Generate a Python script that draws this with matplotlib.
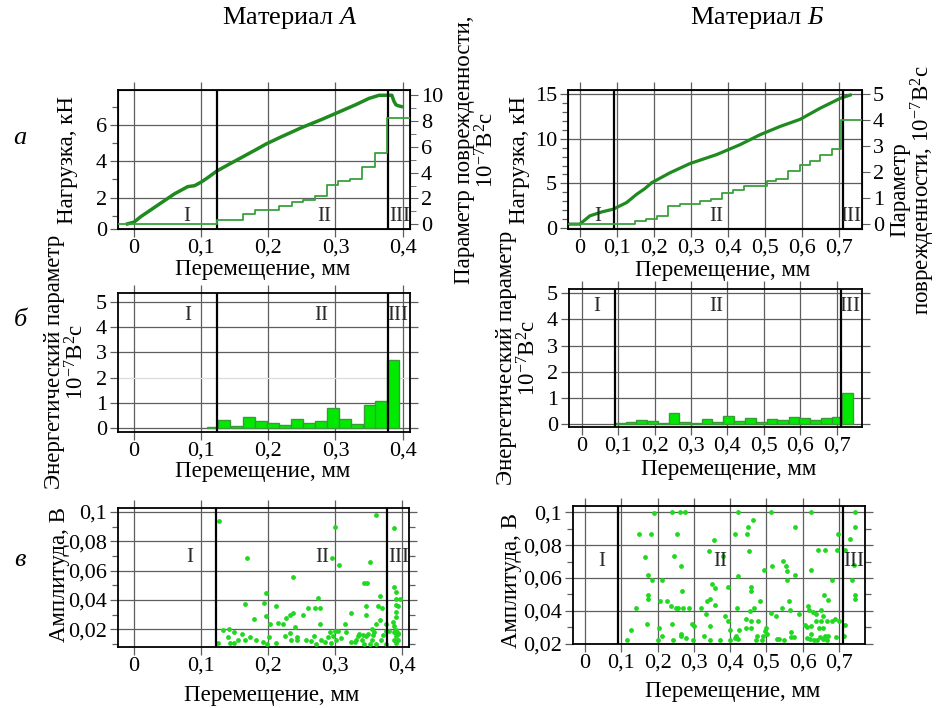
import matplotlib
matplotlib.use('Agg')
import matplotlib.pyplot as plt
from matplotlib.ticker import FuncFormatter, MultipleLocator

plt.rcParams['font.family'] = ['Liberation Serif', 'DejaVu Serif']
plt.rcParams['mathtext.fontset'] = 'custom'
plt.rcParams['mathtext.rm'] = 'Liberation Serif'
plt.rcParams['mathtext.it'] = 'Liberation Serif:italic'

# ---------------- Material A ----------------
load_x_A = [-0.010, 0.000, 0.010, 0.020, 0.028, 0.040, 0.050, 0.060, 0.070, 0.080,
            0.090, 0.100, 0.110, 0.123, 0.140, 0.160, 0.180, 0.197, 0.220, 0.250,
            0.280, 0.302, 0.330, 0.350, 0.365, 0.378, 0.384, 0.387, 0.390, 0.393, 0.398]
load_A = [0.55, 0.65, 0.95, 1.20, 1.40, 1.70, 1.95, 2.20, 2.40, 2.60,
          2.65, 2.85, 3.10, 3.45, 3.80, 4.20, 4.60, 4.95, 5.35, 5.85,
          6.30, 6.65, 7.10, 7.45, 7.62, 7.62, 7.62, 7.30, 7.10, 7.05, 7.00]

damage_x_A = [-0.024, 0.124, 0.162, 0.180, 0.216, 0.235, 0.252, 0.269, 0.287,
              0.304, 0.322, 0.340, 0.359, 0.376, 0.411]
damage_A = [0.0, 0.35, 0.79, 1.10, 1.38, 1.69, 1.90, 2.20, 3.04,
            3.35, 3.50, 4.44, 5.48, 8.20, 8.20]

bar_x_A = [0.117, 0.1345, 0.153, 0.171, 0.189, 0.2065, 0.2245, 0.243,
           0.261, 0.279, 0.2965, 0.3145, 0.3325, 0.351, 0.368, 0.3855]
bar_A = [0.04, 0.33, 0.07, 0.43, 0.29, 0.21, 0.11, 0.36,
         0.20, 0.29, 0.78, 0.37, 0.16, 0.93, 1.06, 2.70]

amp_x_A = [0.127, 0.126, 0.133, 0.142, 0.140, 0.144, 0.149, 0.150, 0.156, 0.162,
           0.166, 0.166, 0.169, 0.173, 0.180, 0.183, 0.193, 0.194, 0.197, 0.197,
           0.198, 0.201, 0.203, 0.212, 0.212, 0.215, 0.222, 0.225, 0.227, 0.233,
           0.233, 0.235, 0.238, 0.238, 0.240, 0.244, 0.244, 0.253, 0.257, 0.260,
           0.264, 0.269, 0.270, 0.272, 0.275, 0.278, 0.278, 0.279, 0.285, 0.290,
           0.293, 0.294, 0.296, 0.297, 0.300, 0.300, 0.302, 0.305, 0.306, 0.310,
           0.315, 0.317, 0.325, 0.325, 0.330, 0.332, 0.335, 0.337, 0.340, 0.342,
           0.344, 0.346, 0.347, 0.347, 0.344, 0.348, 0.350, 0.352, 0.353, 0.355,
           0.356, 0.357, 0.359, 0.362, 0.362, 0.364, 0.367, 0.367, 0.369, 0.371,
           0.362, 0.372, 0.376, 0.377, 0.377, 0.381, 0.387, 0.388, 0.389, 0.389,
           0.389, 0.389, 0.391, 0.391, 0.392, 0.391, 0.392, 0.392, 0.392, 0.392,
           0.392, 0.394, 0.394, 0.397, 0.395, 0.395]
amp_A = [0.0935, 0.0109, 0.0193, 0.0200, 0.0147, 0.0109, 0.0109, 0.0182, 0.0129, 0.0166,
         0.0129, 0.0371, 0.0689, 0.0147, 0.0268, 0.0129, 0.0113, 0.0376, 0.0289, 0.0449,
         0.0102, 0.0147, 0.0234, 0.0360, 0.0109, 0.0243, 0.0234, 0.0152, 0.0280, 0.0296,
         0.0177, 0.0129, 0.0312, 0.0554, 0.0216, 0.0129, 0.0147, 0.0300, 0.0129, 0.0348,
         0.0120, 0.0154, 0.0348, 0.0102, 0.0410, 0.0348, 0.0234, 0.0129, 0.0113, 0.0147,
         0.0182, 0.0109, 0.0689, 0.0152, 0.0189, 0.0896, 0.0125, 0.0189, 0.0638, 0.0143,
         0.0234, 0.0182, 0.0314, 0.0113, 0.0113, 0.0129, 0.0152, 0.0170, 0.0129, 0.0159,
         0.0102, 0.0152, 0.0300, 0.0358, 0.0513, 0.0513, 0.0166, 0.0102, 0.0661, 0.0205,
         0.0129, 0.0163, 0.0182, 0.0102, 0.0239, 0.0358, 0.0426, 0.0262, 0.0129, 0.0348,
         0.0976, 0.0159, 0.0186, 0.0102, 0.0239, 0.0186, 0.0250, 0.0129, 0.0182, 0.0223,
         0.0894, 0.0485, 0.0451, 0.0405, 0.0364, 0.0319, 0.0284, 0.0198, 0.0152, 0.0106,
         0.0175, 0.0129, 0.0170, 0.0405, 0.0358, 0.0175]

bounds_A = [0.123, 0.378]

# ---------------- Material B ----------------
load_x_B = [-0.032, 0.000, 0.027, 0.060, 0.090, 0.126, 0.153, 0.175, 0.194, 0.243,
            0.297, 0.369, 0.432, 0.486, 0.540, 0.594, 0.648, 0.702, 0.729]
load_B = [0.42, 0.42, 1.35, 1.80, 2.10, 2.84, 3.77, 4.40, 5.08, 6.19,
          7.23, 8.24, 9.35, 10.47, 11.40, 12.20, 13.45, 14.56, 14.93]

damage_x_B = [-0.032, 0.148, 0.178, 0.207, 0.238, 0.270, 0.324, 0.353, 0.384, 0.414,
              0.444, 0.504, 0.530, 0.562, 0.594, 0.621, 0.648, 0.680, 0.704, 0.768]
damage_B = [0.0, 0.14, 0.22, 0.33, 0.71, 0.78, 0.90, 0.97, 1.22, 1.30,
            1.47, 1.66, 1.75, 2.05, 2.27, 2.45, 2.68, 2.90, 4.02, 4.02]

bar_x_B = [0.105, 0.134, 0.164, 0.193, 0.225, 0.253, 0.281, 0.312, 0.343, 0.373, 0.403,
           0.433, 0.463, 0.493, 0.523, 0.552, 0.583, 0.612, 0.642, 0.673, 0.702, 0.730]
bar_B = [0.03, 0.05, 0.13, 0.10, 0.04, 0.42, 0.06, 0.03, 0.17, 0.05, 0.28,
         0.10, 0.22, 0.05, 0.19, 0.15, 0.27, 0.22, 0.15, 0.23, 0.26, 1.18]

amp_x_B = [0.115, 0.127, 0.140, 0.150, 0.165, 0.172, 0.175, 0.175, 0.175, 0.181,
           0.191, 0.186, 0.202, 0.205, 0.207, 0.211, 0.211, 0.225, 0.236, 0.239,
           0.241, 0.243, 0.246, 0.250, 0.253, 0.257, 0.262, 0.264, 0.264, 0.266,
           0.268, 0.271, 0.276, 0.278, 0.287, 0.296, 0.297, 0.301, 0.321, 0.328,
           0.333, 0.337, 0.343, 0.344, 0.346, 0.346, 0.349, 0.356, 0.358, 0.358,
           0.372, 0.381, 0.386, 0.393, 0.395, 0.399, 0.399, 0.413, 0.413, 0.415,
           0.418, 0.421, 0.421, 0.422, 0.425, 0.443, 0.445, 0.447, 0.450, 0.453,
           0.455, 0.459, 0.459, 0.459, 0.459, 0.464, 0.466, 0.471, 0.473, 0.478,
           0.482, 0.489, 0.491, 0.493, 0.496, 0.499, 0.501, 0.512, 0.514, 0.516,
           0.526, 0.530, 0.535, 0.542, 0.545, 0.548, 0.554, 0.556, 0.556, 0.563,
           0.565, 0.567, 0.569, 0.577, 0.579, 0.580, 0.591, 0.606, 0.611, 0.613,
           0.615, 0.617, 0.620, 0.622, 0.622, 0.622, 0.624, 0.629, 0.632, 0.636,
           0.638, 0.640, 0.643, 0.646, 0.647, 0.650, 0.652, 0.655, 0.657, 0.657,
           0.659, 0.661, 0.663, 0.666, 0.666, 0.669, 0.670, 0.680, 0.682, 0.689,
           0.691, 0.696, 0.698, 0.701, 0.714, 0.716, 0.716, 0.730, 0.737, 0.742,
           0.744, 0.744, 0.744, 0.744]
amp_B = [0.0220, 0.0281, 0.0417, 0.0870, 0.0728, 0.0322, 0.0616, 0.0498, 0.0474, 0.0870,
         0.0996, 0.0590, 0.0220, 0.0295, 0.0458, 0.0590, 0.0249, 0.0458, 0.0431, 0.0322,
         0.1000, 0.0220, 0.0732, 0.0417, 0.0870, 0.0417, 0.1000, 0.0671, 0.0261, 0.0249,
         0.0519, 0.0417, 0.1000, 0.0235, 0.0417, 0.0322, 0.0220, 0.0306, 0.0417, 0.0249,
         0.0383, 0.0458, 0.0762, 0.0306, 0.0220, 0.0472, 0.0565, 0.0833, 0.0539, 0.0438,
         0.0224, 0.0732, 0.0366, 0.0336, 0.0545, 0.0220, 0.0281, 0.0235, 0.0870, 0.0249,
         0.0417, 0.0614, 0.1000, 0.0228, 0.0281, 0.0295, 0.0350, 0.0870, 0.0909, 0.0762,
         0.0397, 0.0295, 0.0336, 0.0545, 0.0519, 0.0951, 0.0417, 0.0220, 0.0249, 0.0336,
         0.0458, 0.0224, 0.0249, 0.0651, 0.0275, 0.0295, 0.0261, 0.1000, 0.0387, 0.0675,
         0.0371, 0.0228, 0.0228, 0.0417, 0.0701, 0.0220, 0.0675, 0.0641, 0.0590, 0.0458,
         0.0403, 0.0269, 0.0241, 0.0241, 0.0911, 0.0616, 0.0383, 0.0316, 0.0302, 0.0235,
         0.0431, 0.0403, 0.0228, 0.1000, 0.0647, 0.0306, 0.0261, 0.0391, 0.0220, 0.0336,
         0.0383, 0.0224, 0.0768, 0.0295, 0.0241, 0.0403, 0.0336, 0.0366, 0.0228, 0.0295,
         0.0498, 0.0249, 0.0768, 0.0336, 0.0220, 0.0249, 0.0464, 0.0336, 0.0590, 0.0350,
         0.0241, 0.0768, 0.0870, 0.0336, 0.0249, 0.0312, 0.0768, 0.0837, 0.0590, 0.0681,
         0.1000, 0.0911, 0.0498, 0.0474]

bounds_B = [0.091, 0.711]

W, H = 942, 708
GRID = '#5e5e5e'
LOAD_COLOR = '#1f8a1f'
DAMAGE_COLOR = '#3aa03a'
BAR_FILL = '#00ea00'
BAR_EDGE = '#3a9a3a'
DOT_COLOR = '#1fd81f'
UNIT = r'10$^{-7}$В$^2$с'
TICK_SIZE = 16
LABEL_SIZE = 16.5

comma = FuncFormatter(lambda v, p: f'{v:g}'.replace('.', ','))

fig = plt.figure(figsize=(W / 100, H / 100), dpi=100)


def px_axes(x0, y0, x1, y1):
    return fig.add_axes([x0 / W, 1 - y1 / H, (x1 - x0) / W, (y1 - y0) / H])


def frame(ax, right=True):
    ax.set_axisbelow(True)
    ax.grid(True, which='major', color=GRID, lw=0.9)
    ax.tick_params(which='both', direction='out', color=GRID, top=True,
                   right=right, labelsize=TICK_SIZE, pad=2)
    ax.tick_params(which='major', length=6, width=0.9)
    ax.tick_params(which='minor', length=4, width=0.9)
    ax.tick_params(axis='x', pad=1)
    ax.xaxis.set_major_formatter(comma)
    ax.yaxis.set_major_formatter(comma)
    for s in ax.spines.values():
        s.set_linewidth(1.3)


def regions(ax, bounds, xs, y):
    for b in bounds:
        ax.axvline(b, color='black', lw=1.6, zorder=4)
    for x, name in zip(xs, ['I', 'II', 'III']):
        ax.text(x, y, name, transform=ax.get_xaxis_transform(), ha='center',
                va='center', fontsize=15, color='#2a2a2a', zorder=5)


def label(x, y, text, rot=0, size=LABEL_SIZE, **kw):
    fig.text(x / W, 1 - y / H, text, rotation=rot, ha='center', va='center',
             fontsize=size, **kw)


# ---- row a: load and damage parameter ----
ax = px_axes(118, 90, 410, 229)
frame(ax, right=False)
ax.plot(load_x_A, load_A, color=LOAD_COLOR, lw=2.5, zorder=3)
ax.set_xlim(-0.024, 0.411)
ax.set_ylim(0.27, 7.91)
ax.set_xticks([0, 0.1, 0.2, 0.3, 0.4])
ax.set_yticks([0.27, 2, 4, 6], labels=['0', '2', '4', '6'])
ax.yaxis.set_minor_locator(MultipleLocator(1))
ax2 = ax.twinx()
ax2.step(damage_x_A, damage_A, where='post', color=DAMAGE_COLOR, lw=1.3, zorder=3)
ax2.set_ylim(-0.36, 10.38)
ax2.set_yticks([0, 2, 4, 6, 8, 10])
ax2.yaxis.set_minor_locator(MultipleLocator(1))
ax2.tick_params(which='both', direction='out', color=GRID, labelsize=TICK_SIZE, pad=2)
ax2.tick_params(which='major', length=6)
ax2.tick_params(which='minor', length=4)
regions(ax, bounds_A, [0.078, 0.284, 0.395], 0.09)

ax = px_axes(568, 90, 862, 229)
frame(ax, right=False)
ax.plot(load_x_B, load_B, color=LOAD_COLOR, lw=2.3, zorder=3)
ax.set_xlim(-0.032, 0.761)
ax.set_ylim(-0.13, 15.5)
ax.set_xticks([0, 0.1, 0.2, 0.3, 0.4, 0.5, 0.6, 0.7])
ax.set_yticks([0, 5, 10, 15])
ax.yaxis.set_minor_locator(MultipleLocator(1))
ax2 = ax.twinx()
ax2.step(damage_x_B, damage_B, where='post', color=DAMAGE_COLOR, lw=1.3, zorder=3)
ax2.set_ylim(-0.18, 5.16)
ax2.set_yticks([0, 1, 2, 3, 4, 5])
ax2.tick_params(direction='out', color=GRID, labelsize=TICK_SIZE, pad=2, length=6)
regions(ax, bounds_B, [0.047, 0.367, 0.732], 0.09)

# ---- row б: energy parameter histogram ----
ax = px_axes(118, 293, 410, 432)
frame(ax)
ax.bar(bar_x_A, bar_A, width=0.018, color=BAR_FILL, edgecolor=BAR_EDGE, lw=1.0, zorder=3)
ax.set_xlim(-0.024, 0.411)
ax.set_ylim(-0.16, 5.35)
ax.set_xticks([0, 0.1, 0.2, 0.3, 0.4])
ax.set_yticks([0, 1, 2, 3, 4, 5])
ax.get_ygridlines()[2].set_color('#dcdcdc')
regions(ax, bounds_A, [0.08, 0.279, 0.393], 0.84)

ax = px_axes(569, 289, 862, 427)
frame(ax)
ax.bar(bar_x_B, bar_B, width=0.029, color=BAR_FILL, edgecolor=BAR_EDGE, lw=1.0, zorder=3)
ax.set_xlim(-0.036, 0.77)
ax.set_ylim(-0.13, 5.17)
ax.set_xticks([0, 0.1, 0.2, 0.3, 0.4, 0.5, 0.6, 0.7])
ax.set_yticks([0, 1, 2, 3, 4, 5])
regions(ax, bounds_B, [0.04, 0.37, 0.737], 0.87)

# ---- row в: amplitudes ----
ax = px_axes(118, 508, 409, 647)
frame(ax)
ax.scatter(amp_x_A, amp_A, s=12, color=DOT_COLOR, lw=0, zorder=3)
ax.set_xlim(-0.024, 0.411)
ax.set_ylim(0.0079, 0.1027)
ax.set_xticks([0, 0.1, 0.2, 0.3, 0.4])
ax.set_yticks([0.02, 0.04, 0.06, 0.08, 0.1])
ax.yaxis.set_minor_locator(MultipleLocator(0.01))
regions(ax, bounds_A, [0.084, 0.281, 0.395], 0.646)

ax = px_axes(573, 506, 865, 644)
frame(ax)
ax.scatter(amp_x_B, amp_B, s=12, color=DOT_COLOR, lw=0, zorder=3)
ax.set_xlim(-0.033, 0.772)
ax.set_ylim(0.0198, 0.1038)
ax.set_xticks([0, 0.1, 0.2, 0.3, 0.4, 0.5, 0.6, 0.7])
ax.set_yticks([0.02, 0.04, 0.06, 0.08, 0.1])
ax.yaxis.set_minor_locator(MultipleLocator(0.01))
regions(ax, bounds_B, [0.046, 0.374, 0.741], 0.60)

# ---- titles, panel letters, axis labels ----
label(290, 18, r'Материал $\mathit{А}$', size=19)
label(757, 18, r'Материал $\mathit{Б}$', size=19)
for y, letter in [(138, 'а'), (320, 'б'), (560, 'в')]:
    label(20, y, letter, size=19, style='italic')

xlab = 'Перемещение, мм'
for x, y in [(263, 270), (723, 271), (263, 471), (729, 470), (272, 695), (733, 691)]:
    label(x, y, xlab)

label(68, 160, 'Нагрузка, кН', rot=90)
label(476, 150, 'Параметр поврежденности,\n' + UNIT, rot=90, linespacing=1.0)
label(519, 160, 'Нагрузка, кН', rot=90)
label(913, 190, 'Параметр\nповрежденности, ' + UNIT, rot=90, linespacing=0.95)
label(66, 362, 'Энергетический параметр\n' + UNIT, rot=90, linespacing=1.0)
label(518, 358, 'Энергетический параметр\n' + UNIT, rot=90, linespacing=1.0)
label(60, 575, 'Амплитуда, В', rot=90)
label(512, 580, 'Амплитуда, В', rot=90)

fig.savefig('out.png', dpi=100)
